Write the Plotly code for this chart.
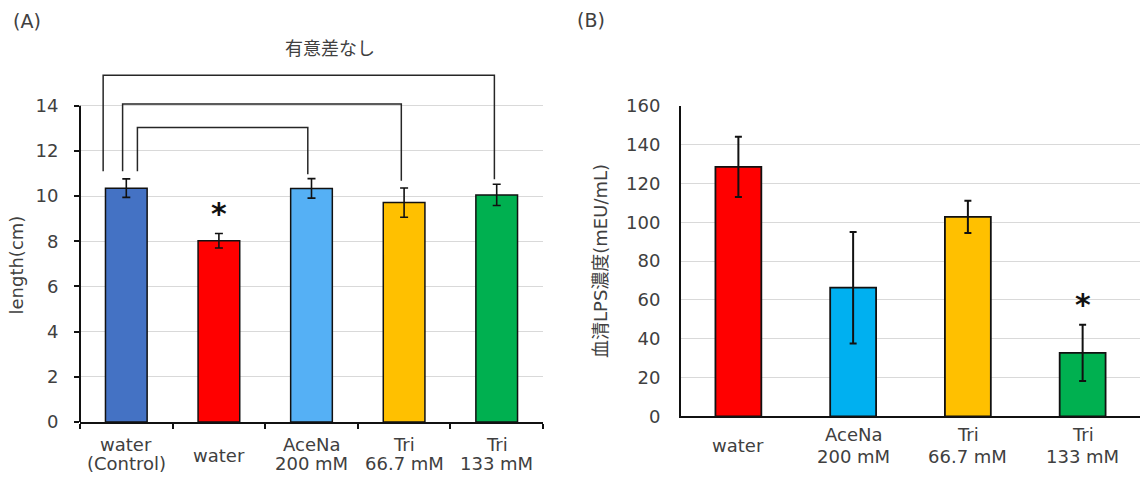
import plotly.graph_objects as go

# ---------------- data ----------------
cats_a = ["water (Control)", "water", "AceNa 200 mM", "Tri 66.7 mM", "Tri 133 mM"]
labels_a = [["water", "(Control)"], ["water"], ["AceNa", "200 mM"], ["Tri", "66.7 mM"], ["Tri", "133 mM"]]
length_cm = [10.35, 8.02, 10.34, 9.71, 10.05]
length_err = [0.41, 0.32, 0.43, 0.65, 0.47]
colors_a = ["#4472C4", "#FF0000", "#55B0F5", "#FFC000", "#00B050"]

cats_b = ["water", "AceNa 200 mM", "Tri 66.7 mM", "Tri 133 mM"]
labels_b = [["water"], ["AceNa", "200 mM"], ["Tri", "66.7 mM"], ["Tri", "133 mM"]]
lps = [128.6, 66.3, 102.8, 32.7]
lps_err = [15.5, 28.7, 8.3, 14.5]
colors_b = ["#FF0000", "#00B0F0", "#FFC000", "#00B050"]

# significance brackets (panel A): from category index -> to category index
br_from = [0, 0, 0]
br_to = [4, 3, 2]
br_top = [15.35, 14.08, 13.04]
br_from_off = [-0.25, -0.04, 0.12]
br_to_off = [-0.025, -0.03, -0.04]
br_from_end = [11.1, 11.1, 11.1]
br_to_end = [10.74, 10.68, 10.96]
sig_a_index, sig_a_y = 1, 9.46
sig_b_index, sig_b_y = 3, 60.2

W, H = 1140, 477
FONT = "DejaVu Sans, Noto Sans CJK JP, sans-serif"
TXT = "#404040"


def px(x):
    return x / W


def py(y):
    return (H - y) / H


fig = go.Figure()
fig.add_trace(go.Bar(
    x=cats_a, y=length_cm, xaxis="x", yaxis="y",
    marker=dict(color=colors_a, line=dict(color="#111111", width=1.5)),
    error_y=dict(type="data", array=length_err, color="#111111", thickness=1.6, width=4),
    showlegend=False,
))
fig.add_trace(go.Bar(
    x=cats_b, y=lps, xaxis="x2", yaxis="y2", width=0.4,
    marker=dict(color=colors_b, line=dict(color="#111111", width=1.8)),
    error_y=dict(type="data", array=lps_err, color="#111111", thickness=2, width=3.5),
    showlegend=False,
))

tickfont = dict(family=FONT, size=18, color=TXT)
fig.update_layout(
    template="none",
    width=W, height=H, autosize=False,
    margin=dict(l=0, r=0, t=0, b=0, pad=0, autoexpand=False),
    paper_bgcolor="white", plot_bgcolor="white",
    bargap=0.55, showlegend=False,
    xaxis=dict(domain=[px(80), px(543)], showticklabels=False, showline=True, automargin=False,
               linecolor="#111111", linewidth=2, ticks="outside", tickson="boundaries",
               ticklen=5, tickwidth=2, tickcolor="#111111", showgrid=False, anchor="y"),
    yaxis=dict(domain=[py(422), py(71.8)], range=[0, 15.5], tickvals=list(range(0, 15, 2)),
               showline=False, ticks="outside", ticklen=5, tickwidth=2, tickcolor="#111111",
               gridcolor="#D9D9D9", gridwidth=1.3, zeroline=False, tickfont=tickfont,
               ticklabelstandoff=12, anchor="x", automargin=False),
    xaxis2=dict(domain=[px(681), 1.0], showticklabels=False, showline=True, automargin=False,
                linecolor="#111111", linewidth=2, ticks="", showgrid=False, anchor="y2"),
    yaxis2=dict(domain=[py(416.3), py(106)], range=[0, 160], tickvals=list(range(0, 161, 20)),
                showline=True, linecolor="#111111", linewidth=2, ticks="",
                gridcolor="#D9D9D9", gridwidth=1.3, zeroline=False, tickfont=tickfont,
                ticklabelstandoff=15, anchor="x2", automargin=False),
)

shapes = []
# y axis line for panel A (0..14 only)
shapes.append(dict(type="line", xref="x domain", yref="y", x0=0, x1=0, y0=0, y1=14,
                   line=dict(color="#111111", width=2)))
for f, t, top, fo, to, fe, te in zip(br_from, br_to, br_top, br_from_off, br_to_off, br_from_end, br_to_end):
    xa = f + fo
    xb = t + to
    shapes.append(dict(type="path", xref="x", yref="y",
                       path=f"M {xa} {fe} L {xa} {top} L {xb} {top} L {xb} {te}",
                       line=dict(color="#262626", width=1.5)))
fig.update_layout(shapes=shapes)

ann = []
lab_font = dict(family=FONT, size=18, color=TXT)


def label(**kw):
    d = dict(showarrow=False, xanchor="center", yanchor="middle", font=lab_font)
    d.update(kw)
    return d


for c, lines in zip(cats_a, labels_a):
    if len(lines) == 1:
        ann.append(label(x=c, xref="x", y=py(455), yref="paper", text=lines[0]))
    else:
        for ln, ypx in zip(lines, [444, 463.5]):
            ann.append(label(x=c, xref="x", y=py(ypx), yref="paper", text=ln))
for c, lines in zip(cats_b, labels_b):
    if len(lines) == 1:
        ann.append(label(x=c, xref="x2", y=py(445.7), yref="paper", text=lines[0]))
    else:
        for ln, ypx in zip(lines, [434, 456]):
            ann.append(label(x=c, xref="x2", y=py(ypx), yref="paper", text=ln))

ann.append(label(x=px(15.5), y=py(265), xref="paper", yref="paper", text="length(cm)", textangle=-90))
ann.append(label(x=px(600.5), y=py(261.5), xref="paper", yref="paper", text="血清LPS濃度(mEU/mL)",
                 textangle=-90))
ann.append(label(x=px(27), y=py(21.5), xref="paper", yref="paper", text="(A)",
                 font=dict(family=FONT, size=19, color=TXT)))
ann.append(label(x=px(591), y=py(19.7), xref="paper", yref="paper", text="(B)",
                 font=dict(family=FONT, size=19, color=TXT)))
ann.append(label(x=px(329.5), y=py(46.7), xref="paper", yref="paper", text="有意差なし",
                 font=dict(family="Noto Sans CJK JP", size=18, color=TXT)))
ann.append(label(x=cats_a[sig_a_index], xref="x", y=sig_a_y, yref="y", text="<b>*</b>",
                 font=dict(family="DejaVu Sans", size=30, color="#111111"), yshift=-5))
ann.append(label(x=cats_b[sig_b_index], xref="x2", y=sig_b_y, yref="y2", text="<b>*</b>",
                 font=dict(family="DejaVu Sans", size=30, color="#111111"), yshift=-5))
fig.update_layout(annotations=ann)

fig.write_html("out.html", config={"displayModeBar": False},
               post_script="document.body.style.margin='0';document.body.style.overflow='hidden';")
